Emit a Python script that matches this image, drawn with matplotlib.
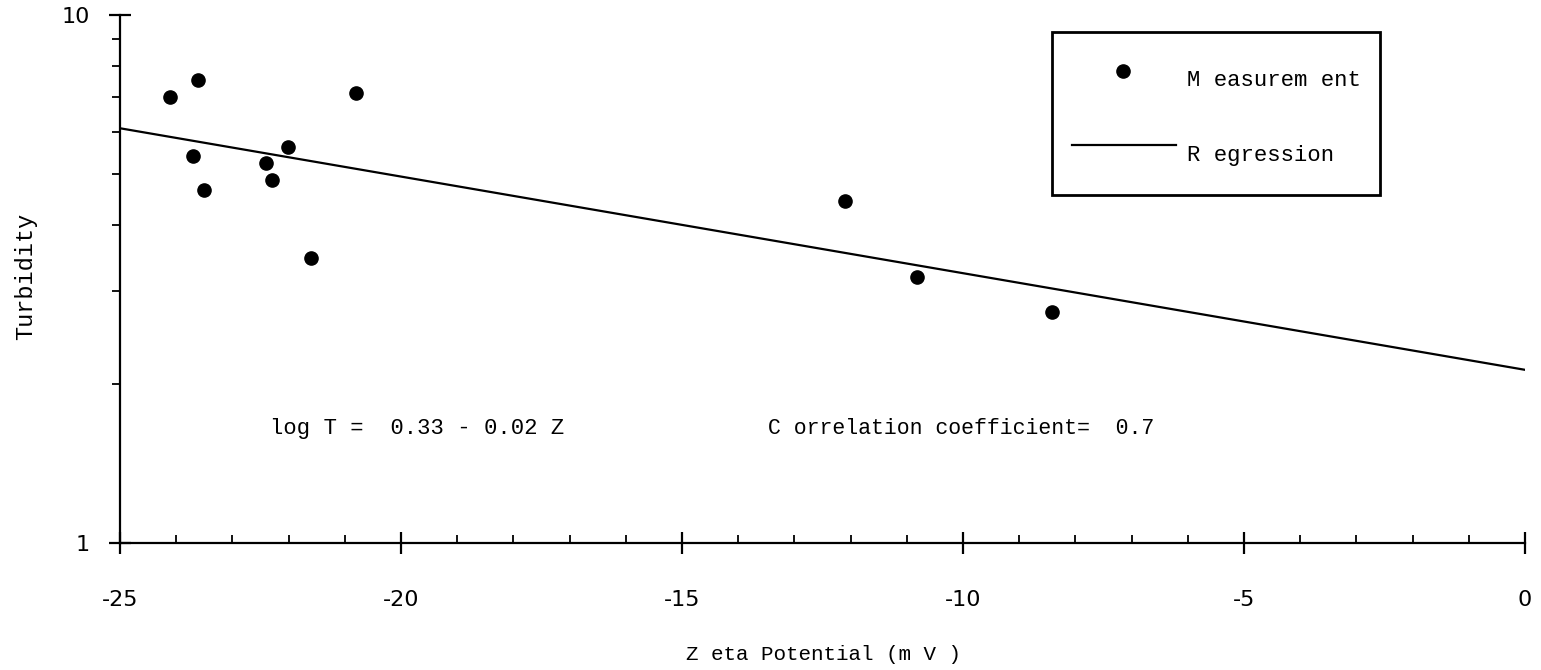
import numpy as np
import matplotlib
matplotlib.use('Agg')
import matplotlib.pyplot as plt
from matplotlib.ticker import FixedLocator, NullFormatter, LogLocator
from matplotlib.patches import Rectangle

# measured points (zeta potential in mV, turbidity)
zeta = [-24.11, -23.61, -23.70, -23.51, -22.40, -22.30, -22.01, -20.80,
        -21.60, -12.10, -10.82, -8.42]
turb = [6.99, 7.53, 5.41, 4.66, 5.24, 4.87, 5.62, 7.12,
        3.47, 4.44, 3.19, 2.74]

# regression: log T = a + b Z
reg_a = 0.328
reg_b = -0.0183

x_ticks = [-25, -20, -15, -10, -5, 0]
x_labels = ['-25', '-20', '-15', '-10', '-5', '0']
y_ticks = [1, 10]
y_labels = ['1', '10']

fnt = 'Liberation Mono'

fig = plt.figure(figsize=(15.41, 6.70), dpi=100)
ax = fig.add_axes([120/1541, 1-543/670, 1405/1541, 528/670])

zline = np.array([-25, 0])
ax.plot(zline, 10**(reg_a + reg_b*zline), color='black', lw=1.6)
ax.plot(zeta, turb, 'o', color='black', ms=9.5, ls='none')

ax.set_yscale('log')
ax.set_xlim(-25, 0)
ax.set_ylim(1, 10)

ax.spines['top'].set_visible(False)
ax.spines['right'].set_visible(False)
ax.spines['left'].set_linewidth(1.6)
ax.spines['bottom'].set_linewidth(1.6)

ax.xaxis.set_major_locator(FixedLocator(x_ticks))
ax.set_xticklabels(x_labels, fontfamily='DejaVu Sans', fontsize=16)
ax.xaxis.set_minor_locator(FixedLocator(np.arange(-25, 1, 1)))
ax.yaxis.set_major_locator(FixedLocator(y_ticks))
ax.set_yticklabels(y_labels, fontfamily='DejaVu Sans', fontsize=16)
ax.yaxis.set_minor_locator(LogLocator(base=10, subs=np.arange(2, 10)))
ax.yaxis.set_minor_formatter(NullFormatter())

ax.tick_params(axis='x', which='major', direction='inout', length=16, width=1.6, pad=26)
ax.tick_params(axis='x', which='minor', direction='in', length=6, width=1.3)
ax.tick_params(axis='y', which='major', direction='inout', length=16, width=1.6, pad=14)
ax.tick_params(axis='y', which='minor', direction='out', length=6, width=1.3)

ax.set_xlabel('Z eta Potential (m V )', fontfamily=fnt, fontsize=15)
ax.xaxis.set_label_coords(0.501, (543-654)/528)
ax.xaxis.label.set_va('center')
ax.set_ylabel('Turbidity', fontfamily=fnt, fontsize=17)
ax.yaxis.set_label_coords((26-120)/1405, (543-276)/528)
ax.yaxis.label.set_va('center')

ax.text(-22.33, 1.651, 'log T =  0.33 - 0.02 Z', fontfamily=fnt, fontsize=16,
        va='center', ha='left')
ax.text(-13.47, 1.651, 'C orrelation coefficient=  0.7', fontfamily=fnt, fontsize=15.5,
        va='center', ha='left')

# legend box
box = Rectangle(((1052-120)/1405, (543-195)/528), (1380-1052)/1405, (195-32)/528,
                transform=ax.transAxes, fill=False, edgecolor='black', lw=2, clip_on=False)
ax.add_patch(box)
ax.plot([(1123-120)/1405], [(543-71)/528], 'o', color='black', ms=9.5,
        transform=ax.transAxes, clip_on=False)
ax.plot([(1072-120)/1405, (1176-120)/1405], [(543-145)/528]*2, color='black', lw=1.6,
        transform=ax.transAxes, clip_on=False)
ax.text((1187-120)/1405, (543-81)/528, 'M easurem ent', fontfamily=fnt, fontsize=16,
        va='center', ha='left', transform=ax.transAxes)
ax.text((1187-120)/1405, (543-155)/528, 'R egression', fontfamily=fnt, fontsize=16,
        va='center', ha='left', transform=ax.transAxes)

ax.set_xlim(-25, 0)
ax.set_ylim(1, 10)

fig.savefig('out.png', dpi=100)
